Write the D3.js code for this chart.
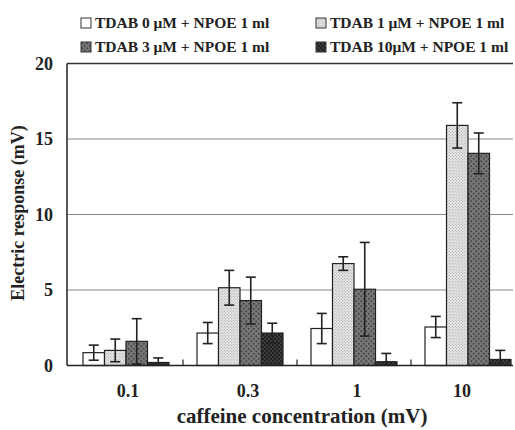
<!DOCTYPE html>
<html>
<head>
<meta charset="utf-8">
<script src="https://cdn.jsdelivr.net/npm/d3@7"></script>
<style>
  body { margin: 0; background: #fff; }
  svg text { font-family: 'Liberation Serif', 'DejaVu Serif', serif; font-weight: 700; fill: #222; }
</style>
</head>
<body>
<div id="chart"></div>
<script>
const width = 515;
const height = 430;

// données
const categories = ["0.1", "0.3", "1", "10"];
const series = ["TDAB 0 \u03bcM + NPOE 1 ml", "TDAB 1 \u03bcM + NPOE 1 ml", "TDAB 3 \u03bcM + NPOE 1 ml", "TDAB 10\u03bcM + NPOE 1 ml"];
const means0 = [0.85, 2.15, 2.45, 2.55];
const means1 = [1.0, 5.15, 6.75, 15.9];
const means2 = [1.6, 4.3, 5.05, 14.05];
const means3 = [0.2, 2.15, 0.25, 0.4];
const errs0 = [0.5, 0.7, 1.0, 0.7];
const errs1 = [0.75, 1.15, 0.45, 1.5];
const errs2 = [1.5, 1.55, 3.1, 1.35];
const errs3 = [0.3, 0.65, 0.55, 0.6];
const yTicks = [0, 5, 10, 15, 20];

const means = [means0, means1, means2, means3];
const errs = [errs0, errs1, errs2, errs3];
const data = [];
categories.forEach((c, i) => {
  series.forEach((s, j) => {
    data.push({cat: c, ser: j, v: means[j][i], e: errs[j][i]});
  });
});

const svg = d3.select("#chart").append("svg")
  .attr("width", width)
  .attr("height", height)
  .attr("font-family", "Liberation Serif, serif");

// motifs de remplissage
const defs = svg.append("defs");
function dotPattern(id, bg, dot, size, r) {
  const p = defs.append("pattern")
    .attr("id", id)
    .attr("patternUnits", "userSpaceOnUse")
    .attr("width", size).attr("height", size);
  p.append("rect").attr("width", size).attr("height", size).attr("fill", bg);
  p.append("circle").attr("cx", size / 4).attr("cy", size / 4).attr("r", r).attr("fill", dot);
  p.append("circle").attr("cx", size * 3 / 4).attr("cy", size * 3 / 4).attr("r", r).attr("fill", dot);
}
dotPattern("p1", "#e8e8e8", "#999", 3, 0.6);
dotPattern("p2", "#777", "#444", 5, 1.0);
dotPattern("p3", "#3c3c3c", "#151515", 4, 0.9);
const fills = ["#fff", "url(#p1)", "url(#p2)", "url(#p3)"];

const mLeft = 67, mRight = 513, mTop = 63.5, mBottom = 365.5;

const y = d3.scaleLinear().domain([0, 20]).range([mBottom, mTop]);
const x0 = d3.scaleBand().domain(categories).range([69, 525]).padding(0);
const x1 = d3.scaleBand().domain(d3.range(series.length)).range([14, 100]).padding(0);

// grille
svg.append("g")
  .selectAll("line")
  .data(yTicks.filter(t => t > 0 && t < 20))
  .join("line")
  .attr("x1", mLeft).attr("x2", mRight)
  .attr("y1", d => y(d)).attr("y2", d => y(d))
  .attr("stroke", "#888").attr("stroke-width", 1);

svg.append("line")
  .attr("x1", mLeft).attr("x2", mRight)
  .attr("y1", y(20)).attr("y2", y(20))
  .attr("stroke", "#333").attr("stroke-width", 1.5);

// barres
svg.append("g")
  .selectAll("rect")
  .data(data)
  .join("rect")
  .attr("x", d => x0(d.cat) + x1(d.ser))
  .attr("y", d => y(d.v))
  .attr("width", x1.bandwidth())
  .attr("height", d => y(0) - y(d.v))
  .attr("fill", d => fills[d.ser])
  .attr("stroke", "#222")
  .attr("stroke-width", 1.2);

// barres d'erreur
const eb = svg.append("g").attr("stroke", "#222").attr("stroke-width", 1.6);
data.forEach(d => {
  const cx = x0(d.cat) + x1(d.ser) + x1.bandwidth() / 2;
  const lo = Math.max(0, d.v - d.e), hi = d.v + d.e;
  eb.append("line").attr("x1", cx).attr("x2", cx).attr("y1", y(lo)).attr("y2", y(hi));
  eb.append("line").attr("x1", cx - 5).attr("x2", cx + 5).attr("y1", y(hi)).attr("y2", y(hi));
  if (d.v - d.e > 0.05)
    eb.append("line").attr("x1", cx - 5).attr("x2", cx + 5).attr("y1", y(lo)).attr("y2", y(lo));
});

// axes
svg.append("line")
  .attr("x1", mLeft).attr("x2", mLeft).attr("y1", mTop).attr("y2", mBottom)
  .attr("stroke", "#222").attr("stroke-width", 1.5);
svg.append("line")
  .attr("x1", mLeft).attr("x2", mRight).attr("y1", mBottom).attr("y2", mBottom)
  .attr("stroke", "#222").attr("stroke-width", 1.5);

// petites graduations entre les groupes
svg.append("g")
  .selectAll("line")
  .data(categories.slice(1))
  .join("line")
  .attr("x1", d => x0(d)).attr("x2", d => x0(d))
  .attr("y1", mBottom).attr("y2", mBottom - 6)
  .attr("stroke", "#222").attr("stroke-width", 1.2);

svg.append("g")
  .selectAll("text")
  .data(yTicks)
  .join("text")
  .attr("x", 53)
  .attr("y", d => y(d) + 6)
  .attr("text-anchor", "end")
  .attr("font-size", 18)
  .text(d => d);

// décalage des étiquettes (elles ne sont pas centrées sur l'original)
const labelShift = [2, 8, 3, -6];
svg.append("g")
  .selectAll("text")
  .data(categories)
  .join("text")
  .attr("x", (d, i) => x0(d) + x0.bandwidth() / 2 + labelShift[i])
  .attr("y", 397)
  .attr("text-anchor", "middle")
  .attr("font-size", 18)
  .text(d => d);

svg.append("text")
  .attr("x", 302).attr("y", 423)
  .attr("text-anchor", "middle")
  .attr("font-size", 21)
  .text("caffeine concentration (mV)");

svg.append("text")
  .attr("transform", "translate(24,213) rotate(-90)")
  .attr("text-anchor", "middle")
  .attr("font-size", 18)
  .text("Electric response (mV)");

// légende
const legPos = [[81, 23], [316, 23], [81, 47], [316, 47]];
const leg = svg.append("g")
  .selectAll("g")
  .data(series)
  .join("g")
  .attr("transform", (d, i) => `translate(${legPos[i][0]},${legPos[i][1]})`);
leg.append("rect")
  .attr("x", 0).attr("y", -5).attr("width", 10).attr("height", 10)
  .attr("fill", (d, i) => fills[i])
  .attr("stroke", "#333").attr("stroke-width", 1);
leg.append("text")
  .attr("x", 14).attr("y", 5)
  .attr("font-size", 15.5)
  .text(d => d);
</script>
</body>
</html>
